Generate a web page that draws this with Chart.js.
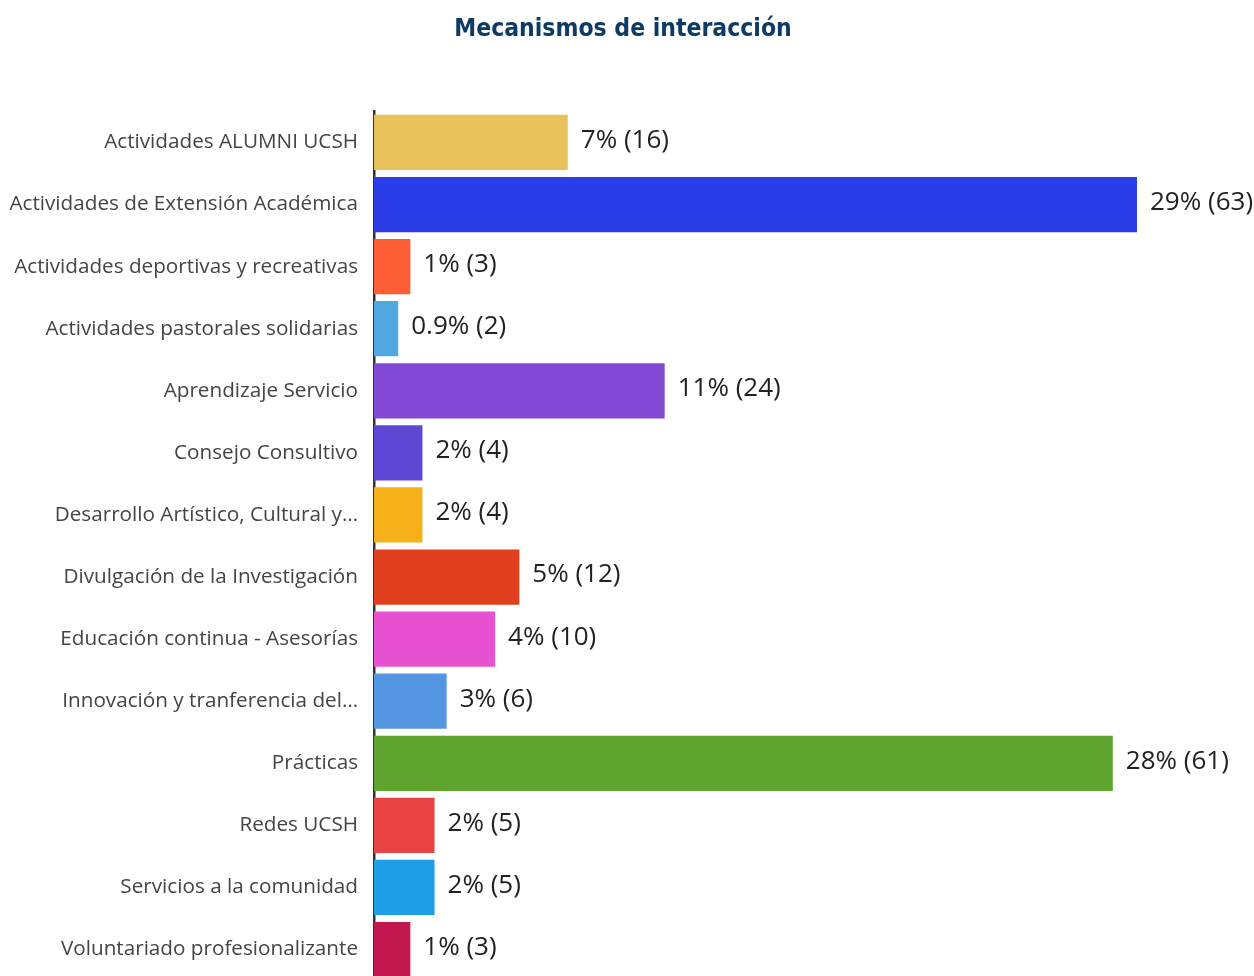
<!DOCTYPE html>
<html>
<head>
<meta charset="utf-8">
<script src="https://cdn.jsdelivr.net/npm/chart.js@4"></script>
<style>
  html, body { margin: 0; padding: 0; background: #fff; overflow: hidden; }
  #wrap { position: relative; width: 1254px; height: 1009px; }
</style>
</head>
<body>
<div id="wrap"><canvas id="chart"></canvas></div>
<script>
// ── DATA ──
const categories = [
  'Actividades ALUMNI UCSH',
  'Actividades de Extensión Académica',
  'Actividades deportivas y recreativas',
  'Actividades pastorales solidarias',
  'Aprendizaje Servicio',
  'Consejo Consultivo',
  'Desarrollo Artístico, Cultural y…',
  'Divulgación de la Investigación',
  'Educación continua - Asesorías',
  'Innovación y tranferencia del…',
  'Prácticas',
  'Redes UCSH',
  'Servicios a la comunidad',
  'Voluntariado profesionalizante'
];
const counts = [16, 63, 3, 2, 24, 4, 4, 12, 10, 6, 61, 5, 5, 3];
const percents = ['7%', '29%', '1%', '0.9%', '11%', '2%', '2%', '5%', '4%', '3%', '28%', '2%', '2%', '1%'];
const barColors = [
  '#e8c15a', '#2b3de8', '#fd5e35', '#4fa8e0', '#8149d4', '#5e47d5', '#f5b01a',
  '#e0401e', '#e652d1', '#5596e3', '#5ea42e', '#ea4343', '#1e9ee6', '#c2184f'
];

// ── VALUE LABELS ──
const valueLabels = {
  id: 'valueLabels',
  afterDatasetsDraw(chart) {
    const ctx = chart.ctx;
    const meta = chart.getDatasetMeta(0);
    ctx.save();
    ctx.font = "26px 'Open Sans', sans-serif";
    ctx.fillStyle = '#222222';
    ctx.textAlign = 'left';
    ctx.textBaseline = 'middle';
    meta.data.forEach((bar, i) => {
      ctx.fillText(`${percents[i]} (${counts[i]})`, bar.x + 13, bar.y - 2);
    });
    ctx.restore();
  }
};

new Chart(document.getElementById('chart'), {
  type: 'bar',
  data: {
    labels: categories,
    datasets: [{
      data: counts,
      backgroundColor: barColors,
      borderWidth: 0,
      barPercentage: 0.89,
      categoryPercentage: 1
    }]
  },
  plugins: [valueLabels],
  options: {
    indexAxis: 'y',
    animation: false,
    responsive: true,
    maintainAspectRatio: false,
    layout: { padding: { top: 0, right: 8, bottom: 0, left: 0 } },
    plugins: {
      legend: { display: false },
      tooltip: { enabled: false },
      title: {
        display: true,
        text: 'Mecanismos de interacción',
        color: '#0d3b66',
        font: { family: "'Liberation Sans Narrow', 'DejaVu Sans Condensed', sans-serif", size: 24.5, weight: 'bold' },
        padding: { top: 15, bottom: 67 }
      }
    },
    scales: {
      x: {
        display: false,
        min: 0,
        max: 72,
        grid: { display: false }
      },
      y: {
        afterFit: axis => { axis.width = 374; },
        grid: { display: false, drawTicks: false },
        border: { display: true, color: '#333333', width: 2.5 },
        ticks: {
          color: '#444444',
          padding: 16,
          font: { family: "'Open Sans', sans-serif", size: 20.7 }
        }
      }
    }
  }
});
</script>
</body>
</html>
